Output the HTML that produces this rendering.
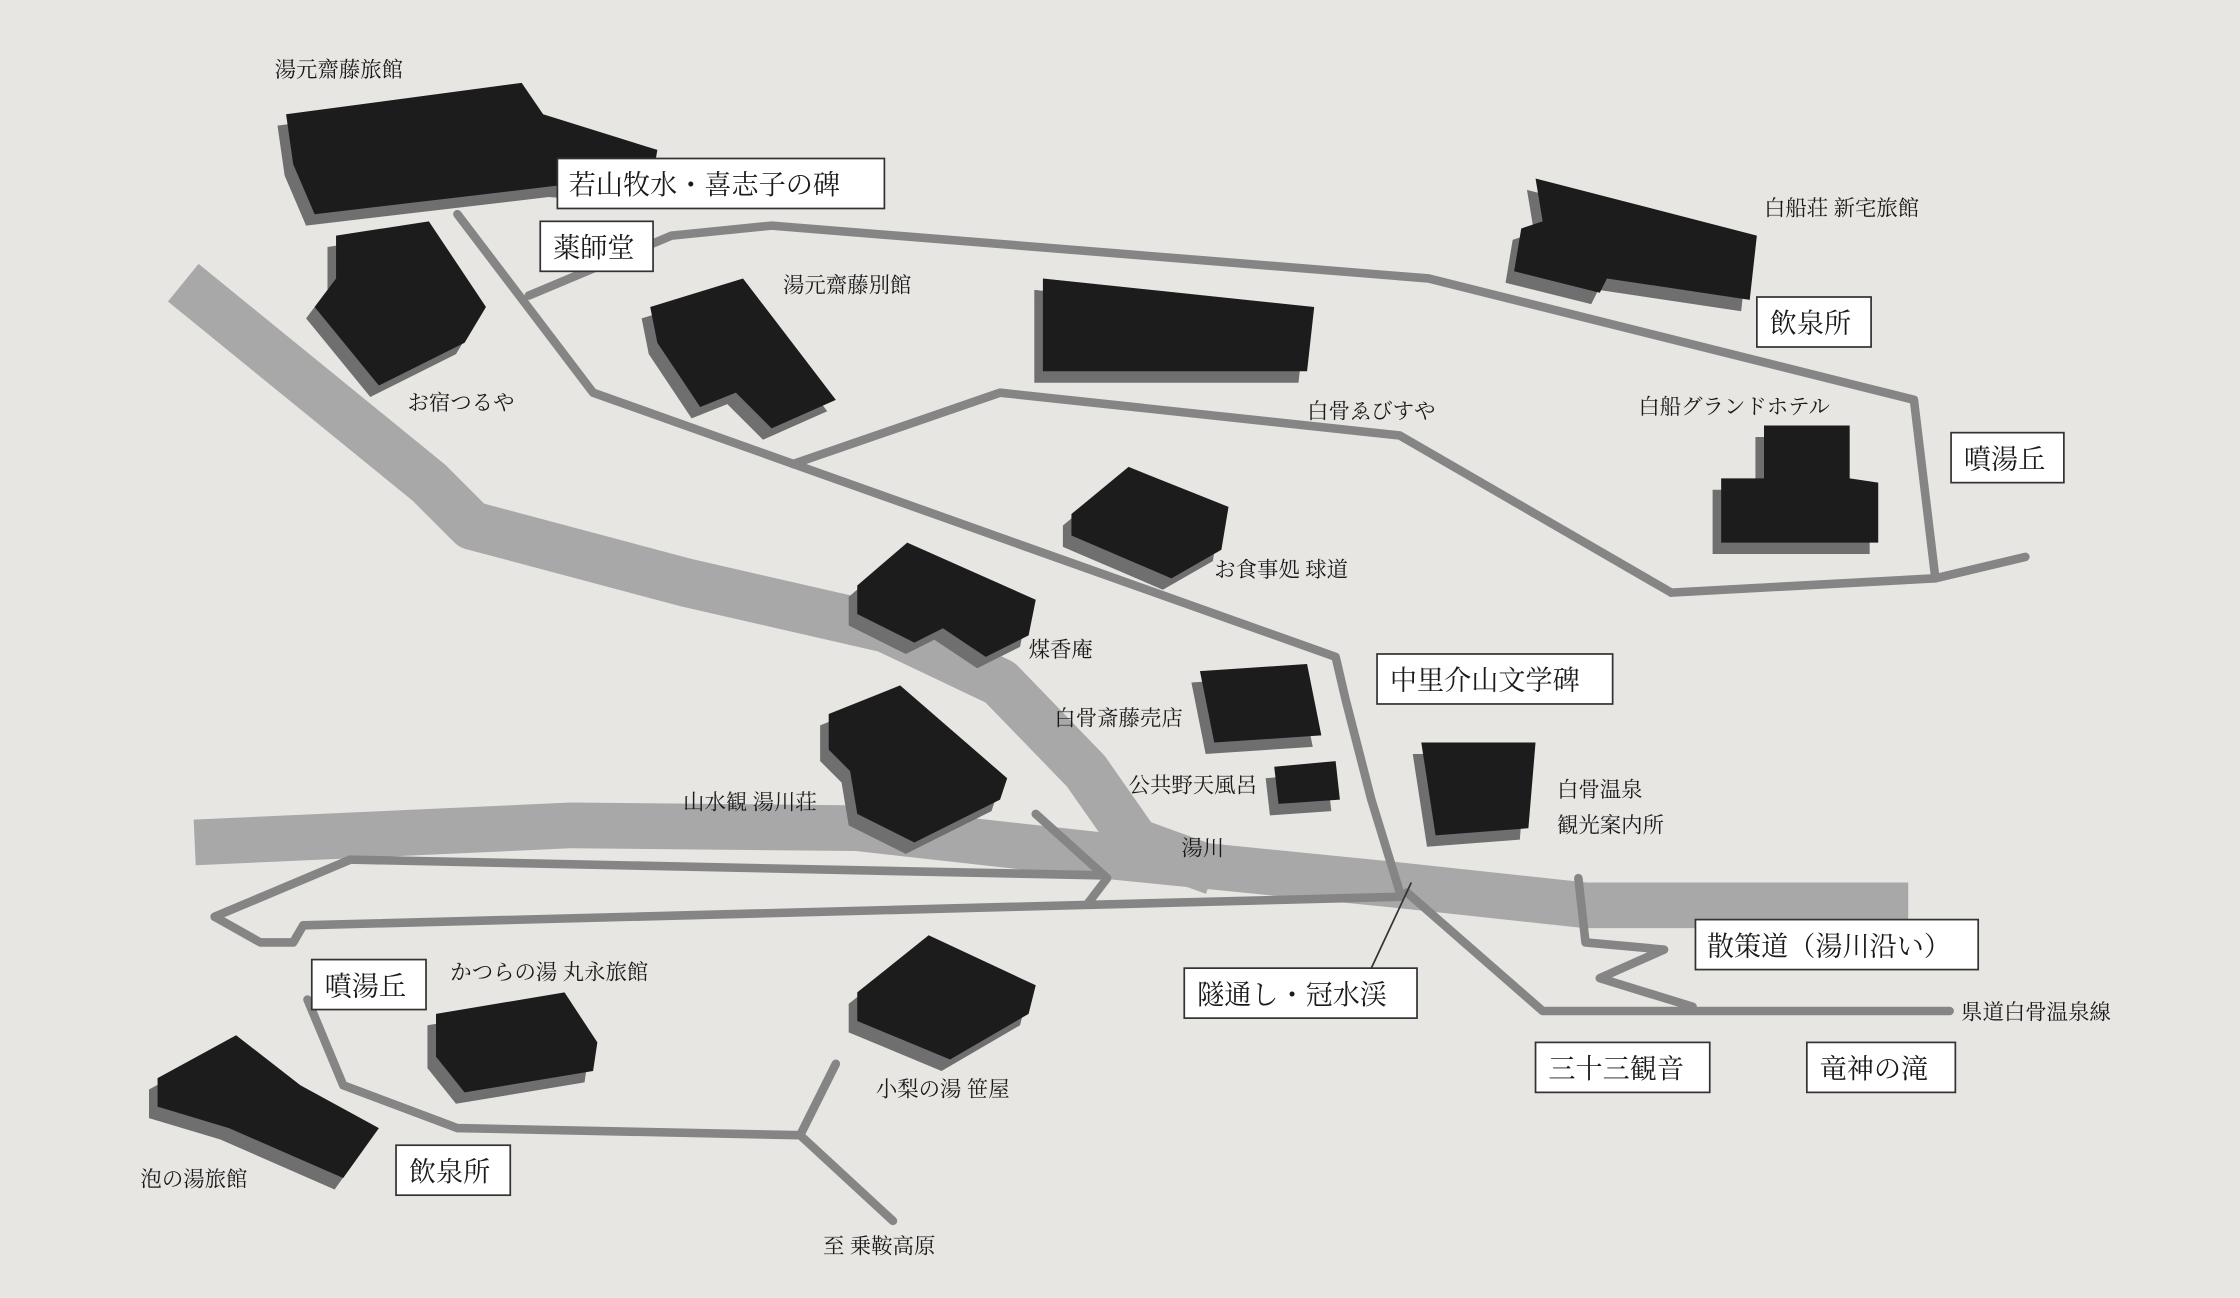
<!DOCTYPE html>
<html><head><meta charset="utf-8"><style>
html,body{margin:0;padding:0;background:#e7e6e2;}
svg{display:block;}
text{font-family:"Liberation Serif","Noto Serif CJK SC","Noto Sans CJK JP",serif;fill:#1a1a1a;}
.l{font-size:15px;}
.b{font-size:19px;}
.bx{fill:#fff;stroke:#333;stroke-width:1.2;}
.rd{fill:none;stroke:#858585;stroke-width:6;stroke-linejoin:round;stroke-linecap:round;}
.sh{fill:#6f6f6f;}
.bd{fill:#1c1c1c;}
</style></head><body>
<svg width="2240" height="1298" viewBox="0 0 1568 909" xmlns="http://www.w3.org/2000/svg">
<rect width="1568" height="909" fill="#e7e6e2"/>
<!-- river -->
<g fill="none" stroke="#a8a8a8" stroke-linejoin="round">
<polyline stroke-width="34" points="128,198 300,338 330,368 480,408 620,440 700,478 760,540 795,590 850,610"/>
<polyline stroke-width="32" points="136,590 400,578 600,580 780,600 980,620 1110,634 1336,634"/>
</g>
<!-- roads -->
<g class="rd">
<polyline points="370,207 470,165 540,158 1000,195 1340,280 1355,405"/>
<polyline points="1170,415 1355,405 1418,390"/>
<polyline points="320,150 415,275 935,460 942,490 960,560 980,625"/>
<polyline points="555,325 700,275 980,305 1170,415"/>
<polyline points="245,602 770,613"/>
<polyline points="150,642 245,602"/>
<polyline points="150,642 182,660 205,660 212,648 980,628"/>
<polyline points="215,700 240,760 320,790 560,795 625,855"/>
<polyline points="560,795 585,745"/>
<polyline points="725,570 775,615 762,632"/>
<polyline points="1105,615 1110,660 1165,665 1120,685 1185,705"/>
<polyline points="985,625 1080,708 1365,708"/>
</g>
<!-- buildings -->
<g transform="translate(-6,8)" class="sh">
<polygon points="200,80 365,58 380,80 460,105 455,135 390,130 220,150 205,115"/>
<polygon points="235,165 300,155 340,215 325,240 265,270 220,215 235,195"/>
<polygon points="455,215 520,195 585,280 540,300 515,275 490,285 460,240"/>
<polygon points="730,195 920,215 915,260 730,260"/>
<polygon points="1075,125 1230,165 1225,210 1125,195 1120,205 1060,190 1065,160 1080,155"/>
<polygon points="1235,298 1295,298 1295,335 1315,338 1315,380 1205,380 1205,335 1235,335"/>
<polygon points="750,360 790,327 860,355 855,385 820,405 750,375"/>
<polygon points="600,410 635,380 725,420 720,445 690,460 660,440 640,450 600,430"/>
<polygon points="580,500 630,480 705,545 700,560 640,590 600,570 595,540 580,525"/>
<polygon points="840,470 915,465 925,515 850,520"/>
<polygon points="892,537 935,533 938,560 895,563"/>
<polygon points="995,520 1075,520 1070,580 1005,585"/>
<polygon points="600,695 650,655 725,690 720,710 665,742 600,715"/>
<polygon points="305,710 395,695 418,730 415,750 325,765 305,740"/>
<polygon points="110,755 165,725 210,760 265,790 240,825 160,790 110,775"/>
</g>
<g class="bd">
<polygon points="200,80 365,58 380,80 460,105 455,135 390,130 220,150 205,115"/>
<polygon points="235,165 300,155 340,215 325,240 265,270 220,215 235,195"/>
<polygon points="455,215 520,195 585,280 540,300 515,275 490,285 460,240"/>
<polygon points="730,195 920,215 915,260 730,260"/>
<polygon points="1075,125 1230,165 1225,210 1125,195 1120,205 1060,190 1065,160 1080,155"/>
<polygon points="1235,298 1295,298 1295,335 1315,338 1315,380 1205,380 1205,335 1235,335"/>
<polygon points="750,360 790,327 860,355 855,385 820,405 750,375"/>
<polygon points="600,410 635,380 725,420 720,445 690,460 660,440 640,450 600,430"/>
<polygon points="580,500 630,480 705,545 700,560 640,590 600,570 595,540 580,525"/>
<polygon points="840,470 915,465 925,515 850,520"/>
<polygon points="892,537 935,533 938,560 895,563"/>
<polygon points="995,520 1075,520 1070,580 1005,585"/>
<polygon points="600,695 650,655 725,690 720,710 665,742 600,715"/>
<polygon points="305,710 395,695 418,730 415,750 325,765 305,740"/>
<polygon points="110,755 165,725 210,760 265,790 240,825 160,790 110,775"/>
</g>
<!-- plain labels -->
<g class="l">
<text x="192" y="54">湯元齋藤旅館</text>
<text x="285" y="287">お宿つるや</text>
<text x="548" y="205">湯元齋藤別館</text>
<text x="915" y="293">白骨ゑびすや</text>
<text x="1235" y="151">白船荘 新宅旅館</text>
<text x="1147" y="290">白船グランドホテル</text>
<text x="850" y="404">お食事処 球道</text>
<text x="720" y="460">煤香庵</text>
<text x="738" y="508">白骨斎藤売店</text>
<text x="790" y="555">公共野天風呂</text>
<text x="1090" y="558">白骨温泉</text>
<text x="1090" y="583">観光案内所</text>
<text x="478" y="567">山水観 湯川荘</text>
<text x="827" y="599">湯川</text>
<text x="315" y="686">かつらの湯 丸永旅館</text>
<text x="613" y="768">小梨の湯 笹屋</text>
<text x="98" y="831">泡の湯旅館</text>
<text x="576" y="878">至 乗鞍高原</text>
<text x="1373" y="714">県道白骨温泉線</text>
</g>
<!-- boxed labels -->
<g>
<rect class="bx" x="390" y="111" width="229" height="35"/><text class="b" x="398" y="136">若山牧水・喜志子の碑</text>
<rect class="bx" x="378" y="155" width="79" height="35"/><text class="b" x="387" y="180">薬師堂</text>
<rect class="bx" x="1230" y="208" width="80" height="35"/><text class="b" x="1239" y="233">飲泉所</text>
<rect class="bx" x="1366" y="303" width="79" height="35"/><text class="b" x="1375" y="328">噴湯丘</text>
<rect class="bx" x="964" y="458" width="165" height="35"/><text class="b" x="973" y="483">中里介山文学碑</text>
<rect class="bx" x="1187" y="644" width="198" height="35"/><text class="b" x="1195" y="669">散策道（湯川沿い）</text>
<polyline points="988,618 960,678" fill="none" stroke="#333" stroke-width="1.2"/>
<rect class="bx" x="829" y="678" width="163" height="35"/><text class="b" x="838" y="703">隧通し・冠水渓</text>
<rect class="bx" x="218" y="672" width="80" height="35"/><text class="b" x="227" y="697">噴湯丘</text>
<rect class="bx" x="1075" y="730" width="122" height="35"/><text class="b" x="1084" y="755">三十三観音</text>
<rect class="bx" x="1265" y="730" width="104" height="35"/><text class="b" x="1274" y="755">竜神の滝</text>
<rect class="bx" x="277" y="802" width="80" height="35"/><text class="b" x="286" y="827">飲泉所</text>
</g>
</svg>
</body></html>
